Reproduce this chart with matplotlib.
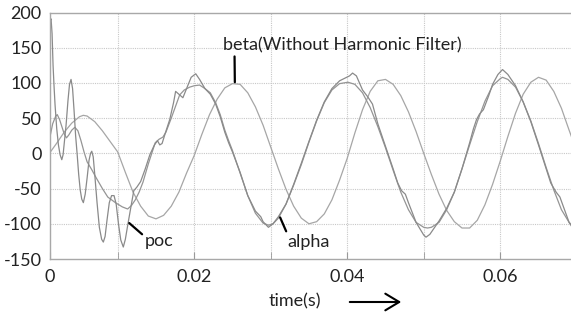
import matplotlib
matplotlib.use("Agg")
import matplotlib.pyplot as plt

plt.rcParams['font.family'] = ['Lato', 'DejaVu Sans']

# ---- data (time in s, value) ----
alpha_t = [0.00116, 0.0015, 0.0019, 0.0021, 0.0024, 0.0027, 0.0030, 0.0033, 0.0036, 0.0040,
           0.0044, 0.0048, 0.0052, 0.0056, 0.0060, 0.0066, 0.0072, 0.0080, 0.0087, 0.0097,
           0.0106, 0.0113, 0.0118, 0.0123, 0.0128, 0.0133, 0.0140, 0.0149, 0.0154, 0.0159,
           0.0163, 0.0170, 0.0176, 0.0181, 0.0187, 0.0194, 0.0200, 0.0207, 0.0214, 0.0221,
           0.0228, 0.0234, 0.0240, 0.0245, 0.0250, 0.0260, 0.0270, 0.0280, 0.0290, 0.0297,
           0.0303, 0.0310, 0.0320, 0.0330, 0.0340, 0.0350, 0.0360, 0.0370, 0.0380, 0.0390,
           0.0401, 0.0410, 0.0420, 0.0430, 0.0440, 0.0450, 0.0460, 0.0470, 0.0480, 0.0490,
           0.0500, 0.0505, 0.0510, 0.0520, 0.0530, 0.0540, 0.0550, 0.0560, 0.0570, 0.0580,
           0.0590, 0.0600, 0.0603, 0.0610, 0.0620, 0.0630, 0.0640, 0.0650, 0.0660, 0.0670,
           0.0680, 0.0690, 0.0697]
alpha_v = [24, 42, 53, 55, 48, 38, 28, 22, 26, 33,
           37, 32, 18, 2, -12, -23, -35, -50, -62, -70,
           -76, -79, -74, -66, -55, -41, -15, 15, 20, 23,
           30, 50, 68, 83, 90, 94, 96, 97, 92, 86,
           72, 55, 33, 18, 4, -28, -60, -85, -99, -102,
           -100, -92, -72, -45, -16, 16, 46, 72, 90, 99,
           101, 98, 86, 65, 38, 8, -24, -55, -80, -98,
           -105, -106, -105, -98, -80, -55, -22, 12, 45, 74,
           96, 106, 108, 105, 94, 73, 46, 14, -20, -52,
           -80, -98, -105]

beta_t = [0.0012, 0.002, 0.003, 0.004, 0.005, 0.0055, 0.006, 0.007, 0.008, 0.009,
          0.010, 0.011, 0.012, 0.013, 0.014, 0.015, 0.016, 0.017, 0.018, 0.019,
          0.020, 0.021, 0.022, 0.023, 0.024, 0.025, 0.026, 0.027, 0.028, 0.029,
          0.030, 0.031, 0.032, 0.033, 0.034, 0.035, 0.036, 0.037, 0.038, 0.039,
          0.040, 0.041, 0.042, 0.043, 0.044, 0.045, 0.046, 0.047, 0.048, 0.049,
          0.050, 0.051, 0.052, 0.053, 0.054, 0.055, 0.056, 0.057, 0.058, 0.059,
          0.060, 0.061, 0.062, 0.063, 0.064, 0.065, 0.066, 0.067, 0.068, 0.069,
          0.0697]
beta_v = [2, 14, 30, 43, 52, 54, 53, 45, 32, 17,
          2, -27, -55, -75, -89, -93, -88, -75, -55, -28,
          -3, 27, 55, 77, 93, 99, 98, 86, 66, 40,
          9, -22, -51, -75, -92, -100, -97, -86, -66, -38,
          -7, 29, 62, 88, 103, 105, 98, 82, 59, 31,
          0, -30, -58, -81, -97, -106, -106, -95, -73, -44,
          -11, 24, 57, 84, 101, 108, 104, 88, 64, 33,
          12]

poc_t = [0.00116, 0.00129, 0.00142, 0.00155, 0.00168, 0.00181, 0.00203, 0.00225, 0.00247, 0.00269,
         0.00286, 0.00299, 0.00325, 0.00350, 0.00370, 0.00390, 0.00410, 0.00430, 0.00450, 0.00469,
         0.00490, 0.00510, 0.00530, 0.00551, 0.00575, 0.00600, 0.00625, 0.00645, 0.00661, 0.00680,
         0.00700, 0.00730, 0.00760, 0.00790, 0.00812, 0.00835, 0.00860, 0.00890, 0.00920, 0.00952,
         0.00980, 0.01010, 0.01040, 0.01073, 0.01100, 0.01134, 0.01170, 0.01210, 0.01250, 0.01300,
         0.01360, 0.01420, 0.01480, 0.01520, 0.01550, 0.01580, 0.01620, 0.01680, 0.01730, 0.01757,
         0.01800, 0.01852, 0.01900, 0.01960, 0.02020, 0.02070, 0.02140, 0.02210, 0.02280, 0.02340,
         0.02400, 0.02450, 0.02500, 0.02600, 0.02700, 0.02800, 0.02870, 0.02900, 0.02970, 0.03030,
         0.03100, 0.03200, 0.03300, 0.03400, 0.03500, 0.03600, 0.03700, 0.03800, 0.03900, 0.04030,
         0.04070, 0.04120, 0.04200, 0.04270, 0.04330, 0.04400, 0.04500, 0.04600, 0.04660, 0.04710,
         0.04760, 0.04800, 0.04900, 0.05000, 0.05030, 0.05080, 0.05200, 0.05300, 0.05400, 0.05500,
         0.05600, 0.05650, 0.05690, 0.05730, 0.05780, 0.05850, 0.05900, 0.05970, 0.06030, 0.06100,
         0.06200, 0.06300, 0.06400, 0.06500, 0.06600, 0.06660, 0.06730, 0.06780, 0.06840, 0.06900,
         0.06970]
poc_v = [188, 191, 170, 125, 95, 69, 35, 12, -2, -9,
         -2, 12, 40, 75, 98, 105, 92, 60, 25, 0,
         -30, -52, -65, -70, -58, -35, -10, 0, 3, -5,
         -30, -70, -105, -122, -126, -118, -95, -70, -60, -60,
         -72, -100, -123, -133, -122, -100, -78, -53, -48, -40,
         -22, -2, 12, 18, 12, 14, 28, 48, 72, 88,
         84, 79, 92, 108, 113, 105, 92, 84, 70, 52,
         30, 15, 2, -27, -60, -82, -90, -97, -105, -100,
         -90, -72, -44, -14, 17, 47, 73, 92, 103, 110,
         114, 110, 90, 80, 70, 42, 10, -22, -42, -53,
         -58, -70, -98, -116, -119, -115, -96, -78, -55, -22,
         15, 35, 48, 56, 62, 82, 98, 112, 119, 112,
         96, 73, 45, 12, -22, -42, -55, -62, -80, -98,
         -110]

y_ticks = [-150, -100, -50, 0, 50, 100, 150, 200]
x_label_ticks = [0.02, 0.04, 0.06]
x_grid = [0.01, 0.02, 0.03, 0.04, 0.05, 0.06]

XMIN, XMAX = 0.00115, 0.06925
FS = 13

fig = plt.figure(figsize=(5.71, 3.16), dpi=100)
ax = fig.add_axes([50 / 571, 1 - 259 / 316, 1 - 50 / 571, (259 - 12.5) / 316])

ax.plot(beta_t, beta_v, color='#a6a6a6', lw=0.9)
ax.plot(alpha_t, alpha_v, color='#959595', lw=0.9)
ax.plot(poc_t, poc_v, color='#8a8a8a', lw=0.9)

ax.set_xlim(XMIN, XMAX)
ax.set_ylim(-150, 200)
ax.set_yticks(y_ticks)
ax.set_yticklabels([str(v) for v in y_ticks])
ax.set_xticks([XMIN] + x_label_ticks)
ax.set_xticklabels(['0', '0.02', '0.04', '0.06'])
ax.set_xticks([0.01, 0.03, 0.05], minor=True)

for xv in x_grid:
    ax.axvline(xv, color='#c8c8c8', lw=0.8, ls=(0, (1, 1)), zorder=0)
for yv in y_ticks[1:-1]:
    ax.axhline(yv, color='#c8c8c8', lw=0.8, ls=(0, (1, 1)), zorder=0)

ax.tick_params(axis='x', which='both', direction='in', length=5, color='#9a9a9a',
               labelsize=FS, labelcolor='#222222', pad=7)
ax.tick_params(axis='y', length=0, labelsize=FS, labelcolor='#222222', pad=6)

for s in ['left', 'bottom', 'top']:
    ax.spines[s].set_color('#a8a8a8')
    ax.spines[s].set_linewidth(1.0)
ax.spines['right'].set_visible(False)

# annotations
ax.annotate('beta(Without Harmonic Filter)', xy=(0.02531, 101), xytext=(0.02371, 153),
            fontsize=FS, color='#222222', va='center', ha='left',
            arrowprops=dict(arrowstyle='-', color='black', lw=1.6,
                            shrinkA=0, shrinkB=0, relpos=(0.05, 0.0)))
ax.annotate('poc', xy=(0.01151, -99), xytext=(0.01355, -124),
            fontsize=FS, color='#222222', va='center', ha='left',
            arrowprops=dict(arrowstyle='-', color='black', lw=1.6,
                            shrinkA=0, shrinkB=0, relpos=(0.0, 0.75)))
ax.annotate('alpha', xy=(0.03123, -91), xytext=(0.03215, -126),
            fontsize=FS, color='#222222', va='center', ha='left',
            arrowprops=dict(arrowstyle='-', color='black', lw=1.6,
                            shrinkA=0, shrinkB=0, relpos=(0.03, 0.85)))

fig.text(295 / 571, 1 - 301 / 316, 'time(s)', fontsize=FS, color='#222222',
         ha='center', va='center')
fig.patches.append(matplotlib.patches.FancyArrowPatch(
    (347 / 571, 1 - 302 / 316), (404 / 571, 1 - 302 / 316), transform=fig.transFigure,
    arrowstyle='->,head_length=10,head_width=6', color='black', lw=1.5, mutation_scale=1))

fig.savefig('out.png', dpi=100)
